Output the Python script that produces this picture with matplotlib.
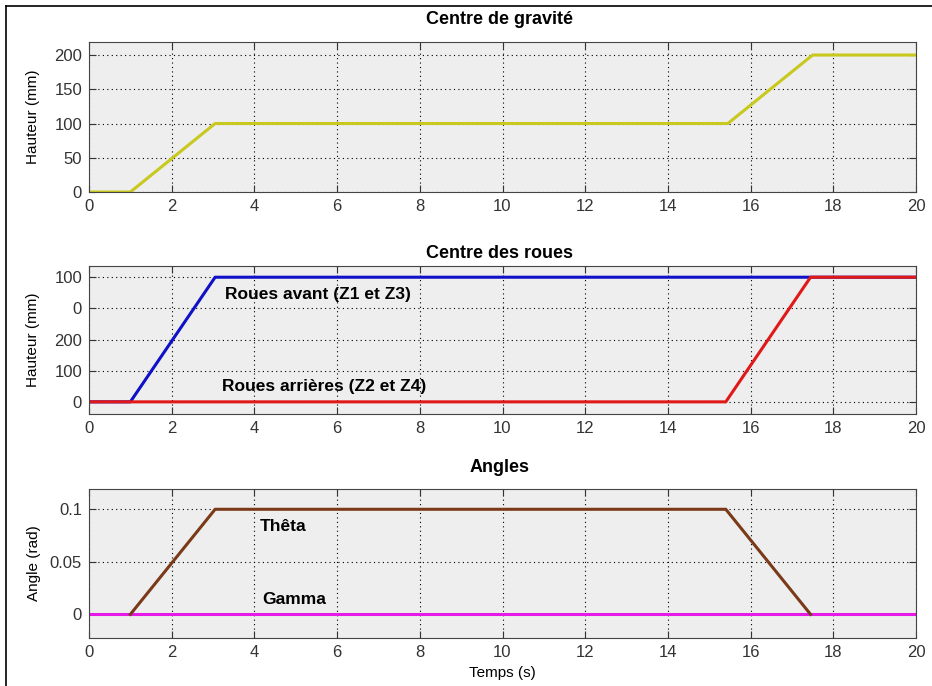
import matplotlib.pyplot as plt
from matplotlib.lines import Line2D

plt.rcParams['font.family'] = ['Liberation Sans Narrow', 'Liberation Sans', 'DejaVu Sans']

# Centre de gravité
t_cg = [0, 1, 3.05, 15.45, 17.5, 20]
z_cg = [0, 0, 100, 100, 200, 200]

# Centre des roues
t_av = [0, 1, 3.05, 20]
z_av = [0, 0, 400, 400]
t_ar = [0, 15.4, 17.45, 20]
z_ar = [0, 0, 400, 400]
roues_ticks = [0, 100, 200, 300, 400]
roues_labels = ['0', '100', '200', '0', '100']

# Angles
t_theta = [1, 3.05, 15.4, 17.45]
theta = [0, 0.1, 0.1, 0]
t_gamma = [0, 20]
gamma = [0, 0]

fig = plt.figure(figsize=(9.32, 6.86), dpi=100)
W, H = 932, 686

def make_ax(top, bottom, title, title_y):
    ax = fig.add_axes([89 / W, 1 - bottom / H, (916 - 89) / W, (bottom - top) / H])
    ax.set_facecolor('#eeeeee')
    ax.set_xlim(0, 20)
    ax.set_xticks(range(0, 21, 2))
    ax.grid(True, color='black', linestyle=(0, (1, 3)), linewidth=0.8)
    ax.tick_params(direction='in', top=True, right=True, length=5, labelsize=12, pad=5, colors='#333333')
    for s in ax.spines.values():
        s.set_color('#444444')
    fig.text(500 / W, 1 - title_y / H, title, ha='center', va='center',
             fontsize=13, fontweight='bold', family='Liberation Sans')
    return ax

ax1 = make_ax(42, 192, 'Centre de gravité', 19)
ax1.plot(t_cg, z_cg, color='#c8c81e', linewidth=2.2)
ax1.set_ylim(0, 219)
ax1.set_yticks([0, 50, 100, 150, 200])
ax1.set_ylabel('Hauteur (mm)', fontsize=11, labelpad=10)

ax2 = make_ax(266, 414, 'Centre des roues', 253)
ax2.plot(t_av, z_av, color='#1010c8', linewidth=2.2)
ax2.plot(t_ar, z_ar, color='#e01818', linewidth=2.2)
ax2.set_ylim(-39, 436)
ax2.set_yticks(roues_ticks)
ax2.set_yticklabels(roues_labels)
ax2.set_ylabel('Hauteur (mm)', fontsize=11, labelpad=10)
ax2.text(3.29, 343, 'Roues avant (Z1 et Z3)', fontsize=12.5, fontweight='bold', family='Liberation Sans', va='center')
ax2.text(3.22, 48, 'Roues arrières (Z2 et Z4)', fontsize=12.5, fontweight='bold', family='Liberation Sans', va='center')

ax3 = make_ax(489, 638, 'Angles', 467)
ax3.plot(t_gamma, gamma, color='#e619e6', linewidth=2.2)
ax3.plot(t_theta, theta, color='#7a3a1a', linewidth=2.2)
ax3.set_ylim(-0.0225, 0.1193)
ax3.set_yticks([0, 0.05, 0.1])
ax3.set_yticklabels(['0', '0.05', '0.1'])
ax3.set_ylabel('Angle (rad)', fontsize=11, labelpad=6)
ax3.set_xlabel('Temps (s)', fontsize=11)
ax3.text(4.14, 0.0834, 'Thêta', fontsize=12.5, fontweight='bold', family='Liberation Sans', va='center')
ax3.text(4.2, 0.0143, 'Gamma', fontsize=12.5, fontweight='bold', family='Liberation Sans', va='center')

# window frame (left and top edges)
fig.add_artist(Line2D([5.5 / W, 5.5 / W], [0, 1 - 5.5 / H], transform=fig.transFigure, color='black', linewidth=1.2))
fig.add_artist(Line2D([5.5 / W, 1], [1 - 5.5 / H, 1 - 5.5 / H], transform=fig.transFigure, color='black', linewidth=1.2))

fig.savefig('out.png', dpi=100)
